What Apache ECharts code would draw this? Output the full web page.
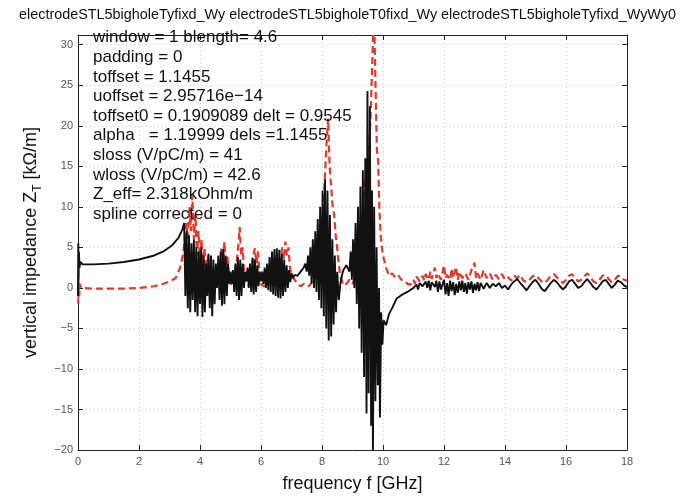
<!DOCTYPE html>
<html>
<head>
<meta charset="utf-8">
<script src="https://cdn.jsdelivr.net/npm/echarts@6/dist/echarts.min.js"></script>
<style>
  html, body { margin: 0; padding: 0; background: #fff; }
  #chart { width: 695px; height: 498px; }
</style>
</head>
<body>
<div id="chart"></div>
<script>
const titleText = 'electrodeSTL5bigholeTyfixd_Wy electrodeSTL5bigholeT0fixd_Wy electrodeSTL5bigholeTyfixd_WyWy0';

const infoLines = [
  'window = 1 blength= 4.6',
  'padding = 0',
  'toffset = 1.1455',
  'uoffset = 2.95716e\u221214',
  'toffset0 = 0.1909089 delt = 0.9545',
  'alpha   = 1.19999 dels =1.1455',
  'sloss (V/pC/m) = 41',
  'wloss (V/pC/m) = 42.6',
  'Z_eff= 2.318kOhm/m',
  'spline corrected = 0'
];

const xTicks = [0, 2, 4, 6, 8, 10, 12, 14, 16, 18];
const yTicks = [-20, -15, -10, -5, 0, 5, 10, 15, 20, 25, 30];

// black solid: [frequency GHz, impedance kOhm/m]
const blackCurve = [
  [0,-1],[0.01,5.5],[0.02,1],[0.03,4.5],[0.05,2.5],[0.08,3.2],[0.15,2.9],[0.5,2.9],[1,3.0],[1.5,3.2],
  [2,3.5],[2.5,4.0],[2.8,4.5],[3.1,5.3],[3.3,6.2],[3.42,7.2],[3.48,8.0],
  [3.52,-1],[3.56,7],[3.6,-2.5],[3.64,6.5],[3.68,-3],[3.72,5.5],[3.76,-1.5],[3.8,6],[3.84,-3],[3.88,5],
  [3.92,-3.5],[3.96,4.5],[4.0,-2],[4.04,5],[4.08,-3.6],[4.12,4],[4.16,-3],[4.2,3],[4.24,-1],[4.28,4.2],
  [4.32,-2.5],[4.36,4],[4.4,-3.5],[4.44,3.5],[4.48,-2],[4.52,3],[4.56,0],[4.6,4],[4.64,-1.5],[4.68,4.5],
  [4.72,-2.2],[4.76,4.8],[4.8,-2],[4.84,4],[4.88,-1],[4.92,3],[4.96,0.5],[5.0,2],[5.04,0.5],[5.08,2.2],
  [5.12,-0.5],[5.16,3],[5.2,-1],[5.24,3.8],[5.28,-1.5],[5.32,3.5],[5.36,-1],[5.4,3],[5.44,0],[5.48,2],
  [5.52,0.8],[5.56,2.5],[5.6,0],[5.64,3],[5.68,-0.5],[5.72,3.7],[5.76,-0.8],[5.8,3.5],[5.84,-0.5],[5.88,2.8],
  [5.92,0.2],[5.96,2],[6.0,0.8],[6.04,2],[6.08,0.5],[6.12,2.5],[6.16,0],[6.2,3],[6.24,-0.3],[6.28,3.8],
  [6.32,-0.5],[6.36,4.5],[6.4,-0.8],[6.44,4.8],[6.48,-1],[6.52,4.9],[6.56,-1.2],[6.6,4.7],[6.64,-1.3],[6.68,4.2],
  [6.72,-1],[6.76,3.5],[6.8,-0.5],[6.84,2.8],[6.88,0],[6.92,2.2],[6.96,0.7],[7.0,1.8],[7.05,1.2],[7.1,1.6],
  [7.2,1.5],[7.3,2],[7.4,2.5],[7.45,3],[7.5,2],[7.54,4],[7.58,1.5],[7.62,5],[7.66,0.5],[7.7,6],
  [7.74,0],[7.78,7],[7.82,-0.5],[7.86,8.5],[7.9,-1.5],[7.94,10],[7.98,-2.5],[8.02,12],[8.06,-3.5],[8.1,13.4],
  [8.14,-5],[8.18,12],[8.22,-6.5],[8.26,9],[8.3,-6],[8.34,6],[8.38,-4.5],[8.42,4],[8.46,-3],[8.5,2],
  [8.55,-1.5],[8.6,0.5],[8.65,1.5],[8.7,2.2],[8.8,2.8],[8.85,3],[8.9,2],[8.94,4.5],[8.98,1],[9.02,6],
  [9.06,0],[9.1,8],[9.14,-2],[9.18,10],[9.22,-5],[9.26,12.5],[9.3,-8],[9.34,14.5],[9.38,-11],[9.42,16],
  [9.46,-15.5],[9.49,24.3],[9.53,-13],[9.57,22.4],[9.61,-17],[9.64,12],[9.67,-20.5],[9.71,10],[9.75,-14],[9.79,5],
  [9.83,-12],[9.87,0],[9.9,-16],[9.94,-3],[9.98,-7],[10.02,-4],[10.1,-4.6],[10.2,-3.2],[10.3,-2.5],[10.45,-1.3],
  [10.6,-0.9],[10.8,-0.5],[11.0,0],[11.1,0.4],[11.15,-0.2],[11.2,0.6],[11.3,0.2],[11.4,0.8],[11.45,0],[11.5,0.9],
  [11.55,-0.3],[11.6,0.7],[11.7,0.1],[11.75,0.9],[11.8,-0.5],[11.85,0.8],[11.9,-0.2],[12.0,1.0],[12.05,-0.8],[12.1,0.6],
  [12.15,-1.0],[12.2,0.9],[12.25,-0.4],[12.3,0.7],[12.35,-0.9],[12.4,0.5],[12.45,-0.6],[12.5,0.8],[12.55,-0.3],[12.6,0.9],
  [12.65,-0.5],[12.7,0.6],[12.75,-0.7],[12.8,0.7],[12.85,-0.2],[12.9,0.8],[12.95,-0.6],[13.0,0.5],[13.05,-0.3],[13.1,0.7],
  [13.15,-0.4],[13.2,0.6],[13.3,-0.1],[13.4,0.6],[13.5,0.0],[13.6,0.5],[13.7,0.2],[13.8,0.6],[13.9,0.0],[14.0,0.3],
  [14.1,-0.2],[14.2,0.4],[14.3,0.8],[14.4,1.1],[14.5,0.6],[14.6,0.2],[14.7,-0.3],[14.8,0.2],[14.9,0.7],[15.0,1.0],
  [15.1,0.5],[15.2,-0.1],[15.3,-0.4],[15.4,0.1],[15.5,0.6],[15.6,1.0],[15.7,0.7],[15.8,0.2],[15.9,-0.2],[16.0,0.2],
  [16.1,0.8],[16.2,1.0],[16.3,0.5],[16.4,0.0],[16.5,0.2],[16.6,0.7],[16.7,1.1],[16.8,0.6],[16.9,0.1],[17.0,-0.2],
  [17.1,0.3],[17.2,0.8],[17.3,1.0],[17.4,0.5],[17.5,0.0],[17.6,0.4],[17.7,0.9],[17.8,0.7],[17.9,0.3],[18.0,0.1]
];

// red dashed: [frequency GHz, impedance kOhm/m]
const redCurve = [
  [0,0],[0.01,-2],[0.02,1],[0.04,-1],[0.06,0.5],[0.1,0],[0.5,-0.1],[1,-0.1],[1.5,-0.1],[2,0],
  [2.5,0.2],[2.8,0.5],[3.0,0.8],[3.2,1.2],[3.35,2.5],[3.45,4.3],[3.5,6],[3.55,8],[3.6,6],[3.65,10],
  [3.7,7],[3.75,11.4],[3.8,6],[3.85,9],[3.9,4],[3.95,7],[4.0,3],[4.05,6],[4.1,2],[4.15,5],
  [4.2,1],[4.25,4],[4.3,0.5],[4.4,2],[4.5,1],[4.6,3],[4.65,1.5],[4.7,5],[4.75,2],[4.8,5.7],
  [4.85,2],[4.9,4],[4.95,1],[5.0,0.5],[5.1,0.3],[5.2,3],[5.25,5],[5.3,7.5],[5.35,4],[5.4,5],
  [5.45,1.5],[5.5,0.5],[5.6,0.3],[5.7,2],[5.75,4],[5.8,4.9],[5.85,3],[5.9,4.5],[5.95,1.5],[6.0,0.5],
  [6.1,0.2],[6.2,0.3],[6.3,0.5],[6.4,1],[6.5,1.5],[6.6,3],[6.7,5],[6.75,3.5],[6.8,5.7],[6.85,4],
  [6.9,5],[6.95,2.5],[7.0,1.5],[7.1,1],[7.2,0.5],[7.3,0.2],[7.4,0.5],[7.5,0.2],[7.6,0.3],[7.7,1],
  [7.8,2.5],[7.9,4],[7.95,6],[8.0,8],[8.05,11],[8.1,14],[8.15,18],[8.2,20.9],[8.25,15],[8.3,12.5],
  [8.35,10],[8.4,9],[8.45,6.5],[8.5,4.8],[8.55,3],[8.6,1.5],[8.7,0.3],[8.8,0.5],[8.9,1],[9.0,0.5],
  [9.1,1.5],[9.2,3],[9.3,6],[9.35,10],[9.4,13.6],[9.45,11],[9.5,14.8],[9.55,17],[9.6,22],[9.65,28],
  [9.68,32],[9.72,31.5],[9.76,24],[9.8,17],[9.84,15.7],[9.88,10],[9.92,6.7],[9.96,5],[10.0,4],[10.1,2.5],
  [10.2,1.5],[10.3,1.8],[10.4,1.3],[10.5,1.6],[10.6,1.0],[10.7,0.9],[10.8,0.5],[10.9,0.4],[10.95,0.3],[11.0,1.0],
  [11.05,0.5],[11.1,1.4],[11.2,0.8],[11.3,1.5],[11.35,0.9],[11.4,1.7],[11.5,1.0],[11.55,2.0],[11.6,1.1],[11.7,2.5],
  [11.75,1.2],[11.8,1.8],[11.9,1.0],[12.0,2.8],[12.05,1.2],[12.1,1.6],[12.2,1.0],[12.25,2.4],[12.3,1.2],[12.4,2.6],
  [12.45,1.0],[12.5,2.0],[12.6,1.2],[12.7,1.8],[12.8,1.0],[12.9,2.2],[13.0,3.1],[13.05,1.2],[13.1,1.8],[13.2,1.0],
  [13.3,2.2],[13.4,1.2],[13.5,1.8],[13.6,1.0],[13.7,1.6],[13.8,1.1],[13.9,1.7],[14.0,1.0],[14.1,1.3],[14.2,0.9],
  [14.3,1.5],[14.4,1.2],[14.5,1.6],[14.6,0.9],[14.7,0.7],[14.8,1.0],[14.9,1.4],[15.0,1.6],[15.1,1.2],[15.2,0.8],
  [15.3,0.6],[15.4,1.0],[15.5,1.5],[15.6,1.7],[15.7,1.3],[15.8,0.9],[15.9,0.6],[16.0,1.0],[16.1,1.5],[16.2,1.7],
  [16.3,1.2],[16.4,0.8],[16.5,1.0],[16.6,1.4],[16.7,1.8],[16.8,1.3],[16.9,0.8],[17.0,0.6],[17.1,1.0],[17.2,1.5],
  [17.3,1.6],[17.4,1.1],[17.5,0.7],[17.6,1.0],[17.7,1.5],[17.8,1.4],[17.9,1.0],[18.0,0.9]
];

const FONT = '"Liberation Sans", Arial, Helvetica, sans-serif';
const fmtNum = v => (v < 0 ? '\u2212' + Math.abs(v) : String(v));

const chart = echarts.init(document.getElementById('chart'), null, { renderer: 'canvas' });

const tickAxisCommon = {
  axisLine: { show: true, onZero: false, lineStyle: { color: '#222', width: 1 } },
  axisTick: { show: true, inside: true, length: 5, lineStyle: { color: '#222' } }
};

const option = {
  animation: false,
  backgroundColor: '#fff',
  title: {
    text: titleText,
    left: 'center',
    top: 3,
    textStyle: { fontFamily: FONT, fontSize: 14.4, fontWeight: 'normal', color: '#111' }
  },
  grid: { left: 78, right: 68, top: 35, bottom: 41, containLabel: false },
  xAxis: [{
    type: 'value',
    min: xTicks[0],
    max: xTicks[xTicks.length - 1],
    interval: 2,
    position: 'bottom',
    name: 'frequency f [GHz]',
    nameLocation: 'middle',
    nameGap: 25,
    nameTextStyle: { fontFamily: FONT, fontSize: 18, color: '#111' },
    ...tickAxisCommon,
    axisLabel: { fontFamily: FONT, fontSize: 11, color: '#555', margin: 6, formatter: fmtNum },
    splitLine: { show: true, lineStyle: { color: '#cfcfcf', type: [1, 3], width: 1 } }
  }, {
    type: 'value',
    min: xTicks[0],
    max: xTicks[xTicks.length - 1],
    interval: 2,
    position: 'top',
    ...tickAxisCommon,
    axisLabel: { show: false },
    splitLine: { show: false }
  }],
  yAxis: [{
    type: 'value',
    min: yTicks[0],
    max: 31.2,
    interval: 5,
    position: 'left',
    name: '{a|vertical impedance Z}{s|T}{a| [k\u03A9/m]}',
    nameLocation: 'middle',
    nameGap: 30,
    nameTextStyle: {
      rich: {
        a: { fontFamily: FONT, fontSize: 18, color: '#111' },
        s: { fontFamily: FONT, fontSize: 12, color: '#111', verticalAlign: 'bottom', padding: [12, 0, 0, 0] }
      }
    },
    ...tickAxisCommon,
    axisLabel: {
      fontFamily: FONT, fontSize: 11, color: '#555', margin: 5,
      formatter: v => (yTicks.indexOf(v) >= 0 ? fmtNum(v) : '')
    },
    splitLine: { show: true, lineStyle: { color: '#cfcfcf', type: [1, 3], width: 1 } }
  }, {
    type: 'value',
    min: yTicks[0],
    max: 31.2,
    interval: 5,
    position: 'right',
    ...tickAxisCommon,
    axisLabel: { show: false },
    splitLine: { show: false }
  }],
  graphic: [{
    type: 'text',
    left: 93,
    top: 28,
    z: 100,
    style: {
      text: infoLines.join('\n'),
      font: '17px ' + FONT,
      lineHeight: 19.6,
      fill: '#111'
    }
  }],
  series: [{
    name: 'black',
    type: 'line',
    data: blackCurve,
    showSymbol: false,
    sampling: 'none',
    clip: true,
    lineStyle: { color: '#111', width: 1.9 },
    z: 3
  }, {
    name: 'red',
    type: 'line',
    data: redCurve,
    showSymbol: false,
    sampling: 'none',
    clip: true,
    lineStyle: { color: '#e2392a', width: 2.2, type: [7, 4] },
    z: 2
  }]
};

chart.setOption(option);
</script>
</body>
</html>
